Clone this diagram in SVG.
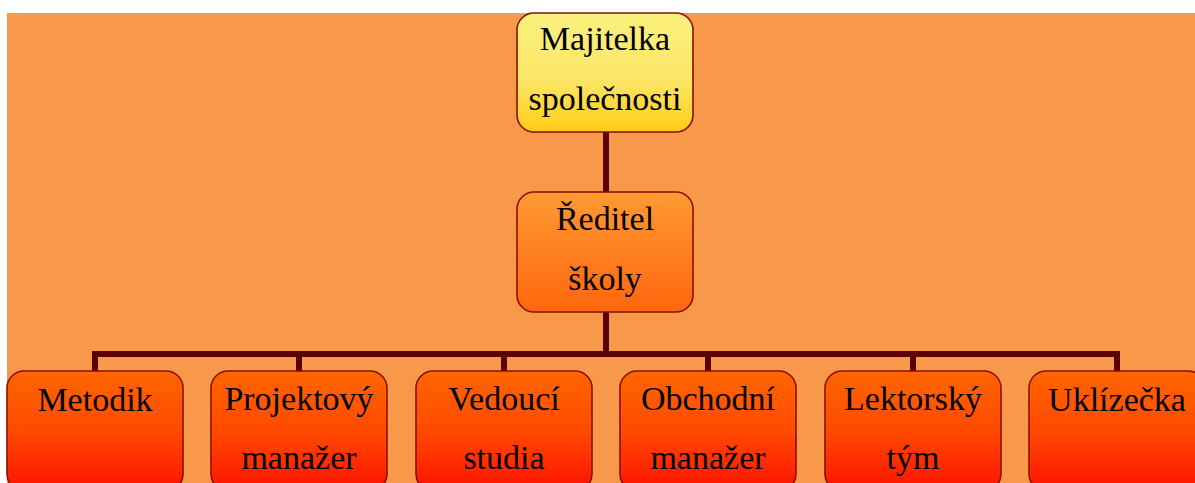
<svg xmlns="http://www.w3.org/2000/svg" width="1195" height="483" viewBox="0 0 1195 483">
  <defs>
    <linearGradient id="gTop" x1="0" y1="0" x2="0" y2="1">
      <stop offset="0" stop-color="#FAF17E"/>
      <stop offset="0.55" stop-color="#FCE66A"/>
      <stop offset="1" stop-color="#FFCC14"/>
    </linearGradient>
    <linearGradient id="gMid" x1="0" y1="0" x2="0" y2="1">
      <stop offset="0" stop-color="#FF9A33"/>
      <stop offset="1" stop-color="#FF660E"/>
    </linearGradient>
    <linearGradient id="gLow" x1="0" y1="0" x2="0" y2="1">
      <stop offset="0" stop-color="#FF6600"/>
      <stop offset="0.5" stop-color="#FF4A00"/>
      <stop offset="1" stop-color="#FF1200"/>
    </linearGradient>
  </defs>
  <style>
    .box { stroke: #8A0F00; stroke-width: 1.6; }
    .lbl { font-family: "Liberation Serif", "Times New Roman", serif; font-size: 34px; fill: #000; text-anchor: middle; }
    .wire { stroke: #5A0000; stroke-width: 6; fill: none; }
  </style>
  <rect x="0" y="0" width="1195" height="483" fill="#FFFFFF"/>
  <rect x="7" y="13" width="1188" height="470" fill="#F7984B"/>

  <g id="connectors">
    <line class="wire" x1="606" y1="132" x2="606" y2="192"/>
    <line class="wire" x1="606" y1="312" x2="606" y2="354"/>
    <polyline class="wire" points="95,372 95,354 1117,354 1117,372"/>
    <line class="wire" x1="299" y1="354" x2="299" y2="372"/>
    <line class="wire" x1="504" y1="354" x2="504" y2="372"/>
    <line class="wire" x1="708" y1="354" x2="708" y2="372"/>
    <line class="wire" x1="913" y1="354" x2="913" y2="372"/>
  </g>

  <g id="majitelka">
    <rect class="box" x="517" y="13" width="176" height="119" rx="17" fill="url(#gTop)"/>
    <text class="lbl" x="605" y="50">Majitelka</text>
    <text class="lbl" x="605" y="110">společnosti</text>
  </g>

  <g id="reditel">
    <rect class="box" x="517" y="192" width="176" height="120" rx="17" fill="url(#gMid)"/>
    <text class="lbl" x="605" y="230">Ředitel</text>
    <text class="lbl" x="605" y="290">školy</text>
  </g>

  <g id="metodik">
    <rect class="box" x="7" y="371" width="176" height="120" rx="17" fill="url(#gLow)"/>
    <text class="lbl" x="95" y="411">Metodik</text>
  </g>

  <g id="projektovy-manazer">
    <rect class="box" x="211" y="371" width="176" height="120" rx="17" fill="url(#gLow)"/>
    <text class="lbl" x="299" y="410">Projektový</text>
    <text class="lbl" x="299" y="469">manažer</text>
  </g>

  <g id="vedouci-studia">
    <rect class="box" x="416" y="371" width="176" height="120" rx="17" fill="url(#gLow)"/>
    <text class="lbl" x="504" y="410">Vedoucí</text>
    <text class="lbl" x="504" y="469">studia</text>
  </g>

  <g id="obchodni-manazer">
    <rect class="box" x="620" y="371" width="176" height="120" rx="17" fill="url(#gLow)"/>
    <text class="lbl" x="708" y="410">Obchodní</text>
    <text class="lbl" x="708" y="469">manažer</text>
  </g>

  <g id="lektorsky-tym">
    <rect class="box" x="825" y="371" width="176" height="120" rx="17" fill="url(#gLow)"/>
    <text class="lbl" x="913" y="410">Lektorský</text>
    <text class="lbl" x="913" y="469">tým</text>
  </g>

  <g id="uklizecka">
    <rect class="box" x="1029" y="371" width="176" height="120" rx="17" fill="url(#gLow)"/>
    <text class="lbl" x="1117" y="411">Uklízečka</text>
  </g>
</svg>
